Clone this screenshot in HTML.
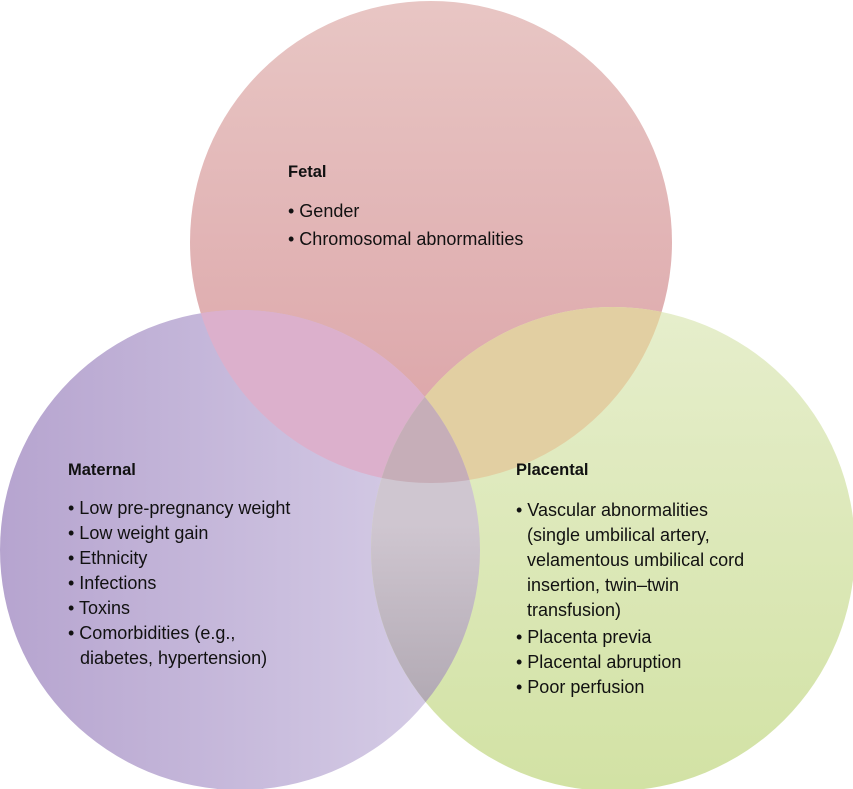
<!DOCTYPE html>
<html><head><meta charset="utf-8"><style>
html,body{margin:0;padding:0;background:#fff;}
svg{display:block;}
text{font-family:"Liberation Sans",Arial,sans-serif;font-size:18px;fill:#111;}
.b{font-weight:bold;font-size:16.5px;}
</style></head><body>
<svg width="853" height="789" viewBox="0 0 853 789" xmlns="http://www.w3.org/2000/svg">
<defs>
<linearGradient id="gf" x1="0" y1="0" x2="0" y2="1">
<stop offset="0" stop-color="#e8c6c4"/><stop offset="1" stop-color="#dba2a6"/></linearGradient>
<linearGradient id="gm" x1="0" y1="0" x2="1" y2="0">
<stop offset="0" stop-color="#b6a4cf"/><stop offset="1" stop-color="#d8d0e8"/></linearGradient>
<linearGradient id="gp" x1="0" y1="0" x2="0" y2="1">
<stop offset="0" stop-color="#e6eecc"/><stop offset="1" stop-color="#d2e2a4"/></linearGradient>
<linearGradient id="gfm" x1="0" y1="0" x2="0" y2="1">
<stop offset="0.55" stop-color="#dcb0cc"/><stop offset="1" stop-color="#d294ba"/></linearGradient>
<linearGradient id="gfp" x1="0" y1="0" x2="0" y2="1">
<stop offset="0.55" stop-color="#e2cfa2"/><stop offset="1" stop-color="#d8c08c"/></linearGradient>
<linearGradient id="gmp" x1="0" y1="0" x2="0" y2="1">
<stop offset="0.45" stop-color="#cfc6d0"/><stop offset="1" stop-color="#a49ca6"/></linearGradient>
<clipPath id="cF"><circle cx="431" cy="242" r="241"/></clipPath>
<clipPath id="cM"><circle cx="240" cy="550" r="240"/></clipPath>
<clipPath id="cP"><circle cx="613" cy="549" r="242"/></clipPath>
</defs>
<circle cx="431" cy="242" r="241" fill="url(#gf)"/>
<circle cx="240" cy="550" r="240" fill="url(#gm)"/>
<circle cx="613" cy="549" r="242" fill="url(#gp)"/>
<g clip-path="url(#cF)"><circle cx="240" cy="550" r="240" fill="url(#gfm)"/></g>
<g clip-path="url(#cF)"><circle cx="613" cy="549" r="242" fill="url(#gfp)"/></g>
<g clip-path="url(#cM)"><circle cx="613" cy="549" r="242" fill="url(#gmp)"/></g>
<g clip-path="url(#cF)"><g clip-path="url(#cM)"><circle cx="613" cy="549" r="242" fill="#c6aeb8"/></g></g>
<text x="288" y="177" class="b">Fetal</text>
<text x="288" y="217">• Gender</text>
<text x="288" y="245">• Chromosomal abnormalities</text>
<text x="68" y="475" class="b">Maternal</text>
<text x="68" y="514">• Low pre-pregnancy weight</text>
<text x="68" y="539">• Low weight gain</text>
<text x="68" y="564">• Ethnicity</text>
<text x="68" y="589">• Infections</text>
<text x="68" y="614">• Toxins</text>
<text x="68" y="639">• Comorbidities (e.g.,</text>
<text x="80" y="664">diabetes, hypertension)</text>
<text x="516" y="475" class="b">Placental</text>
<text x="516" y="516">• Vascular abnormalities</text>
<text x="527" y="541">(single umbilical artery,</text>
<text x="527" y="566">velamentous umbilical cord</text>
<text x="527" y="591">insertion, twin–twin</text>
<text x="527" y="616">transfusion)</text>
<text x="516" y="643">• Placenta previa</text>
<text x="516" y="668">• Placental abruption</text>
<text x="516" y="693">• Poor perfusion</text>
</svg>
</body></html>
